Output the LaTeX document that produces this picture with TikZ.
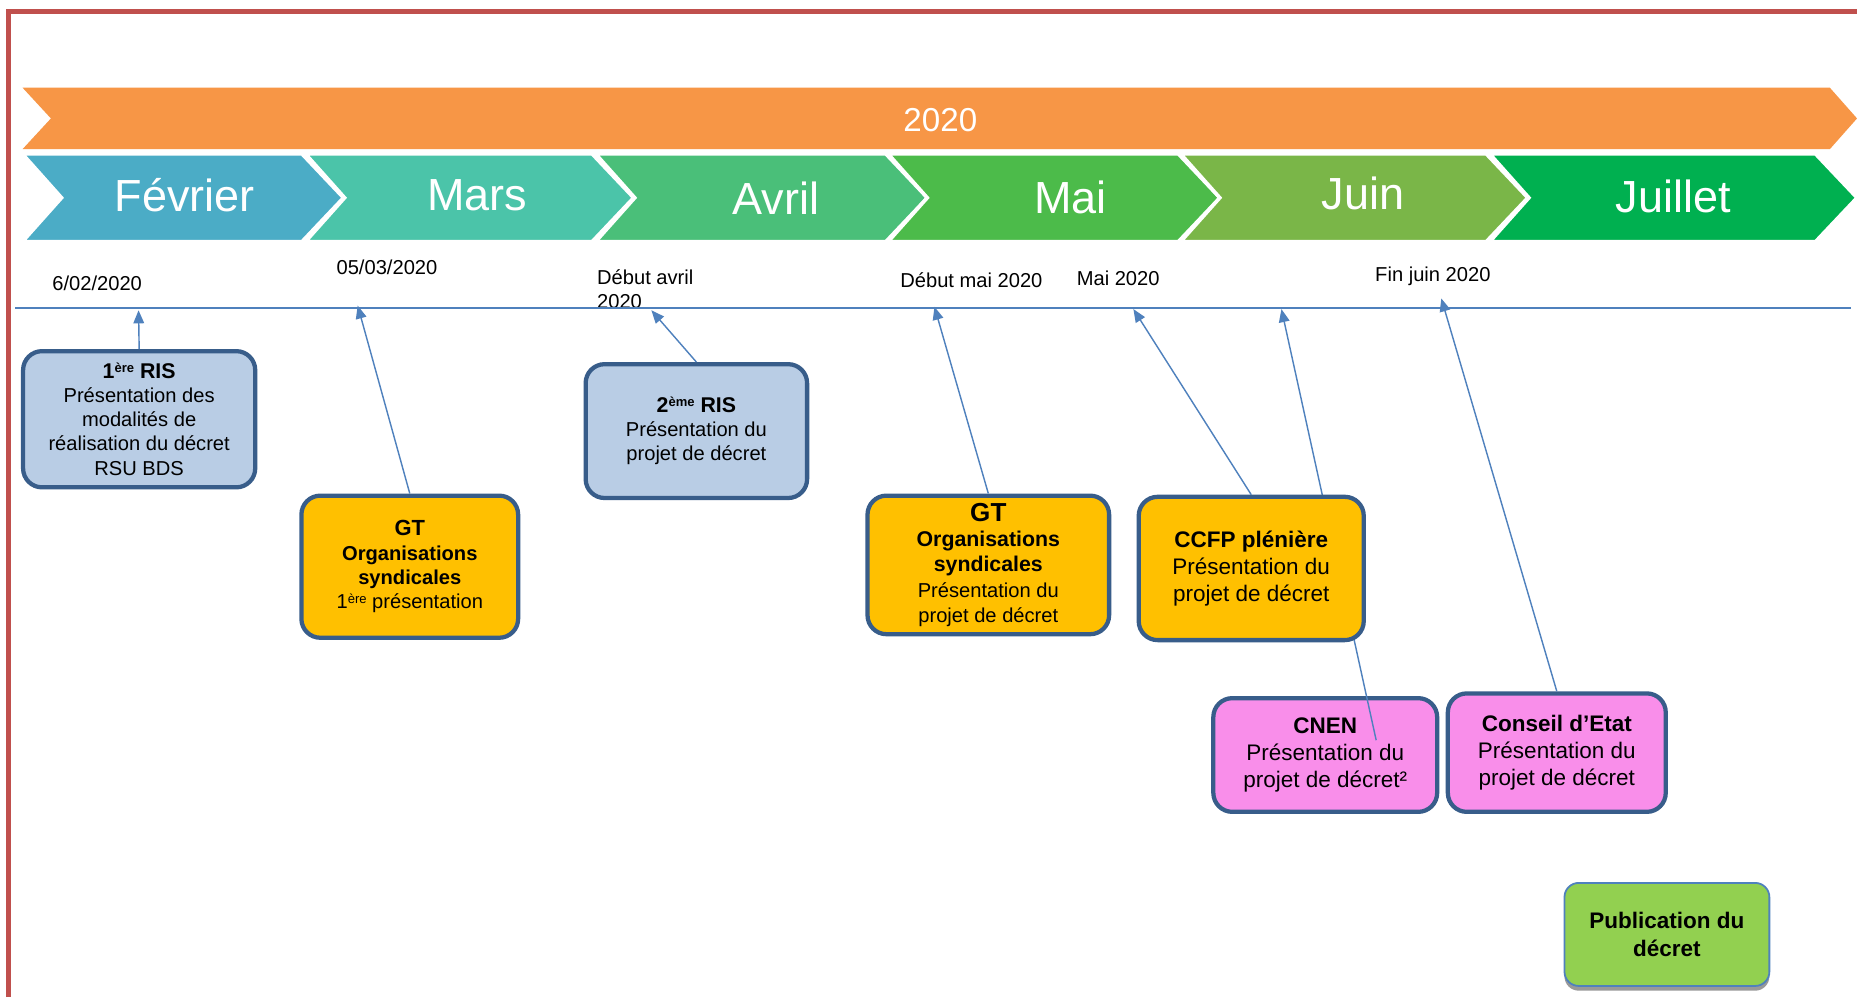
\documentclass[tikz,border=0pt]{standalone}
\usepackage{fontspec}
\setmainfont{Liberation Sans}
\usetikzlibrary{arrows.meta,shadows}
\definecolor{framered}{HTML}{C0504D}
\definecolor{orangeband}{HTML}{F79646}
\definecolor{cfev}{HTML}{4BACC6}
\definecolor{cmar}{HTML}{4BC4A9}
\definecolor{cavr}{HTML}{4ABF79}
\definecolor{cmai}{HTML}{4CBB4A}
\definecolor{cjui}{HTML}{7AB648}
\definecolor{cjul}{HTML}{00B050}
\definecolor{tline}{HTML}{4F81BD}
\definecolor{bborder}{HTML}{385D8A}
\definecolor{bblue}{HTML}{B9CDE5}
\definecolor{byellow}{HTML}{FFC000}
\definecolor{bpink}{HTML}{F98EEA}
\definecolor{bgreen}{HTML}{92D050}
\newcommand\chevron[3]{\filldraw[fill=#3,draw=white,line width=3pt,line join=miter] (#1,130) -- (#2,130) -- (#2+35,167) -- (#2,204) -- (#1,204) -- (#1+33,167) -- cycle;}
\newcommand\supx[1]{\raisebox{4.5pt}{\fontsize{11}{11}\selectfont #1}}
\tikzset{
 box/.style={draw=bborder, line width=3.6pt, rounded corners=16pt, align=center, inner sep=0pt, text=black},
 fsmall/.style={font=\fontsize{17}{20.5}\selectfont},
 fbig/.style={font=\fontsize{19}{23}\selectfont},
 arr/.style={draw=tline, line width=1.2pt, -{Triangle[length=11pt,width=9pt]}},
 month/.style={text=white, font=\fontsize{38}{40}\selectfont, inner sep=0pt},
 datelbl/.style={font=\fontsize{17}{20}\selectfont, anchor=west, align=left, inner sep=0pt},
}
\begin{document}
\begin{tikzpicture}[x=1pt,y=-1pt]
\useasboundingbox (0,0) rectangle (1568,842);
\fill[white] (0,0) rectangle (1568,842);
% frame
\draw[framered, line width=4pt] (7,842) -- (7,10) -- (1568,10);
% year band
\fill[orangeband] (19,74) -- (1545,74) -- (1568,100) -- (1545,126) -- (19,126) -- (43,100) -- cycle;
\node[text=white, font=\fontsize{28}{30}\selectfont, inner sep=0pt] (year) at (794,101) {2020};
% months
\chevron{19}{255}{cfev}
\chevron{258}{500}{cmar}
\chevron{503}{748}{cavr}
\chevron{750}{995}{cmai}
\chevron{997}{1255}{cjui}
\chevron{1258}{1533}{cjul}
\node[month] (mfev) at (156,165) {Février};
\node[month] (mmar) at (403,165) {Mars};
\node[month] (mavr) at (655,167) {Avril};
\node[month] (mmai) at (904,167) {Mai};
\node[month] (mjui) at (1151,163) {Juin};
\node[month] (mjul) at (1413,166) {Juillet};
% dates
\node[datelbl] (d1) at (44,239) {6/02/2020};
\node[datelbl] (d2) at (284,226) {05/03/2020};
\node[datelbl] (d3) at (504,244) {Début avril\\2020};
\node[datelbl] (d4) at (760,237) {Début mai 2020};
\node[datelbl] (d5) at (909,235) {Mai 2020};
\node[datelbl] (d6) at (1161,233) {Fin juin 2020};
% timeline
\draw[tline, line width=1.5pt] (13,260) coordinate (tl0) -- (1563,260) coordinate (tl1);
% boxes
\node[box, fsmall, fill=bblue, minimum width=196pt, minimum height=115pt] (ris1) at (117.5,354)
 {{\bfseries\fontsize{18}{21}\selectfont 1\supx{ère} RIS}\\Présentation des\\modalités de\\réalisation du décret\\RSU BDS};
\node[box, fsmall, fill=byellow, minimum width=183pt, minimum height=120pt] (gt1) at (346,478.5)
 {{\bfseries\fontsize{18.5}{21}\selectfont GT}\\\textbf{Organisations}\\\textbf{syndicales}\\1\supx{ère} présentation};
\node[box, fsmall, fill=bblue, minimum width=187pt, minimum height=113pt] (ris2) at (588,364)
 {{\bfseries\fontsize{18}{21}\selectfont 2\supx{ème} RIS}\\Présentation du\\projet de décret};
\node[box, font=\fontsize{17}{21.5}\selectfont, fill=byellow, minimum width=204pt, minimum height=117pt] (gt2) at (834.5,477)
 {{\bfseries\fontsize{22}{24}\selectfont GT}\\{\bfseries\fontsize{18}{22}\selectfont Organisations}\\{\bfseries\fontsize{18}{22}\selectfont syndicales}\\Présentation du\\projet de décret};
\node[box, fbig, fill=bpink, minimum width=189pt, minimum height=96pt] (cnen) at (1119,637.5)
 {\textbf{CNEN}\\Présentation du\\projet de décret²};
\node[box, fbig, fill=bpink, minimum width=184pt, minimum height=100pt] (conseil) at (1314.5,635.5)
 {\textbf{Conseil d’Etat}\\Présentation du\\projet de décret};
\node[draw=tline, line width=1.5pt, rounded corners=12pt, fill=bgreen, align=center, inner sep=0pt,
  font=\bfseries\fontsize{19}{24}\selectfont, minimum width=173pt, minimum height=87pt,
  drop shadow={shadow xshift=0pt, shadow yshift=-4pt, fill=black!40, opacity=1}] (pub) at (1407.5,789)
 {Publication du\\décret};
% CNEN connector (passes behind CCFP box)
\coordinate (cnenin) at ([xshift=43pt,yshift=12.5pt]cnen.center);
\coordinate (t6) at (1082,261);
\draw[arr] (cnenin) -- (t6);
\node[box, fbig, fill=byellow, minimum width=190pt, minimum height=121pt] (ccfp) at (1056.5,480)
 {\textbf{CCFP plénière}\\Présentation du\\projet de décret};
% connectors
\coordinate (t1) at (117,262);
\coordinate (t2) at (302,258);
\coordinate (t3) at (550,262);
\coordinate (t4) at (789,259);
\coordinate (t5) at (957,261);
\coordinate (t7) at (1217,252);
\draw[arr] (ris1.north) -- (t1);
\draw[arr] (gt1.north) -- (t2);
\draw[arr] (ris2.north) -- (t3);
\draw[arr] (gt2.north) -- (t4);
\draw[arr] (ccfp.north) -- (t5);
\draw[arr] (conseil.north) -- (t7);
\end{tikzpicture}
\end{document}
